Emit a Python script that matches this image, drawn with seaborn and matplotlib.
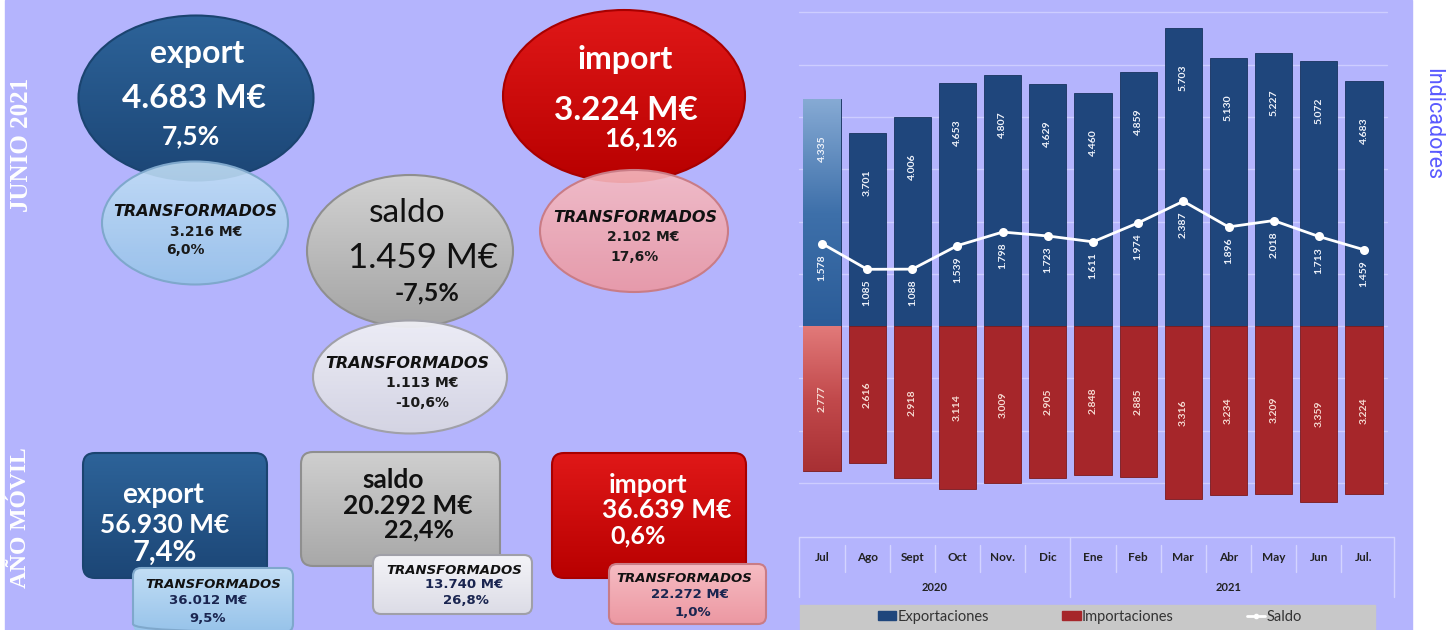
import numpy as np
import pandas as pd
import matplotlib
matplotlib.use("Agg")
import matplotlib.pyplot as plt
import seaborn as sns
from matplotlib.patches import Ellipse, FancyBboxPatch, Rectangle, Patch
from matplotlib.lines import Line2D
from matplotlib.colors import LinearSegmentedColormap

# data
months = ['Jul', 'Ago', 'Sept', 'Oct', 'Nov.', 'Dic', 'Ene', 'Feb', 'Mar', 'Abr', 'May', 'Jun', 'Jul.']
years = ['2020', '2021']
year_spans = [(0, 5), (6, 12)]
exports = [4335, 3701, 4006, 4653, 4807, 4629, 4460, 4859, 5703, 5130, 5227, 5072, 4683]
imports = [2777, 2616, 2918, 3114, 3009, 2905, 2848, 2885, 3316, 3234, 3209, 3359, 3224]
saldo = [1578, 1085, 1088, 1539, 1798, 1723, 1611, 1974, 2387, 1896, 2018, 1713, 1459]

# infographic texts
month_title = 'JUNIO 2021'
year_title = 'AÑO MÓVIL'
junio_main = {'export': ['export', '4.683 M€', '7,5%'],
              'import': ['import', '3.224 M€', '16,1%'],
              'saldo': ['saldo', '1.459 M€', '-7,5%']}
junio_transf = {'export': ['3.216 M€', '6,0%'],
                'import': ['2.102 M€', '17,6%'],
                'saldo': ['1.113 M€', '-10,6%']}
movil_main = {'export': ['export', '56.930 M€', '7,4%'],
              'saldo': ['saldo', '20.292 M€', '22,4%'],
              'import': ['import', '36.639 M€', '0,6%']}
movil_transf = {'export': ['36.012 M€', '9,5%'],
                'saldo': ['13.740 M€', '26,8%'],
                'import': ['22.272 M€', '1,0%']}

BG = '#b4b4fd'
BLUE = '#1f467c'
RED = '#a6262a'
W, H = 1446, 630

sns.set_style('white')
plt.rcParams['font.family'] = ['Lato', 'DejaVu Sans']

fig = plt.figure(figsize=(W / 100, H / 100), dpi=100)
fig.patch.set_facecolor('white')

# canvas axes in pixel coordinates for the infographic part
cv = fig.add_axes([0, 0, 1, 1])
cv.set_xlim(0, W)
cv.set_ylim(H, 0)
cv.axis('off')
cv.add_patch(Rectangle((5, 0), 1407, H, color=BG, zorder=0))

cv.text(22, 145, month_title, rotation=90, ha='center', va='center', color='white',
        fontsize=18, fontweight='bold', family='Liberation Serif')
cv.text(21, 518, year_title, rotation=90, ha='center', va='center', color='white',
        fontsize=17, fontweight='bold', family='Liberation Serif')

ramp = np.linspace(0, 1, 128).reshape(-1, 1)


def shade(p, top, bottom, y0, y1, x0, x1, alpha=1.0):
    # vertical colour ramp clipped to the shape
    cmap = LinearSegmentedColormap.from_list('s', [top, bottom])
    img = cv.imshow(ramp, cmap=cmap, aspect='auto', origin='upper',
                    extent=(x0, x1, y1, y0), zorder=p.get_zorder(), alpha=alpha)
    img.set_clip_path(p)


def ellipse(cx, cy, w, h, top, bottom, ec, alpha=1.0, z=2):
    e = Ellipse((cx, cy), w, h, facecolor='none', edgecolor=ec, lw=1.5, zorder=z + 0.1)
    cv.add_patch(e)
    clip = Ellipse((cx, cy), w, h, facecolor='none', edgecolor='none', zorder=z)
    cv.add_patch(clip)
    shade(clip, top, bottom, cy - h / 2, cy + h / 2, cx - w / 2, cx + w / 2, alpha)


def box(x0, y0, x1, y1, top, bottom, ec, r=12, z=2):
    b = FancyBboxPatch((x0 + r, y0 + r), x1 - x0 - 2 * r, y1 - y0 - 2 * r,
                       boxstyle=f'round,pad={r}', facecolor='none', edgecolor=ec, lw=1.5, zorder=z + 0.1)
    cv.add_patch(b)
    clip = FancyBboxPatch((x0 + r, y0 + r), x1 - x0 - 2 * r, y1 - y0 - 2 * r,
                          boxstyle=f'round,pad={r}', facecolor='none', edgecolor='none', zorder=z)
    cv.add_patch(clip)
    shade(clip, top, bottom, y0, y1, x0, x1)


def main_texts(xs, ys, lines, color, sizes, weights=('bold', 'bold', 'bold')):
    for x, y, t, s, wt in zip(xs, ys, lines, sizes, weights):
        cv.text(x, y, t, ha='center', va='center', color=color, fontsize=s, fontweight=wt, zorder=5)


def transf_texts(xs, ys, vals, color, s1, s2):
    cv.text(xs[0], ys[0], 'TRANSFORMADOS', ha='center', va='center', color='#111111', fontsize=s1,
            fontweight='bold', fontstyle='italic', family='DejaVu Sans', zorder=5)
    for x, y, t in zip(xs[1:], ys[1:], vals):
        cv.text(x, y, t, ha='center', va='center', color=color, fontsize=s2, fontweight='bold',
                family='DejaVu Sans', zorder=5)


# JUNIO 2021 ellipses
ellipse(196, 98, 235, 165, '#2d6399', '#1c4676', '#1b4470')
ellipse(195, 223, 186, 123, '#c2def5', '#97c3ea', '#7fa8cc', alpha=0.9, z=3)
main_texts([197, 194, 191], [53, 98, 136], junio_main['export'], 'white', [23, 24, 19])
transf_texts([195, 206, 185], [212, 232, 250], junio_transf['export'], '#1a1a1a', 11.5, 10)

ellipse(624, 96, 242, 172, '#e01818', '#b80000', '#a80000')
ellipse(634, 231, 188, 122, '#f6bcc3', '#ec98a2', '#c97c86', alpha=0.9, z=3)
main_texts([625, 626, 641], [60, 110, 138], junio_main['import'], 'white', [23, 24, 19])
transf_texts([635, 643, 635], [217, 237, 257], junio_transf['import'], '#1a1a1a', 11.5, 10)

ellipse(410, 251, 206, 152, '#d2d2d2', '#a4a4a4', '#8f8f8f')
ellipse(410, 377, 194, 113, '#f0f0f6', '#d6d6e2', '#a0a0a8', alpha=0.95, z=3)
main_texts([407, 423, 427], [213, 258, 293], junio_main['saldo'], '#111111', [24, 25, 18],
           weights=('normal', 'normal', 'bold'))
transf_texts([407, 422, 422], [363, 383, 403], junio_transf['saldo'], '#1a1a1a', 11.5, 10)

# AÑO MÓVIL boxes
box(83, 453, 267, 578, '#2d6399', '#1c4676', '#1b4470')
box(133, 568, 293, 632, '#c2def5', '#97c3ea', '#7fa8cc', r=8, z=3)
main_texts([163, 165, 165], [495, 525, 553], movil_main['export'], 'white', [20, 19, 21])
transf_texts([213, 208, 208], [584, 601, 618], movil_transf['export'], '#1a2550', 9.5, 9.5)

box(301, 452, 500, 566, '#cfcfcf', '#a8a8a8', '#8f8f8f')
box(373, 555, 532, 614, '#f4f4f8', '#dcdce6', '#a0a0a8', r=8, z=3)
main_texts([393, 408, 419], [480, 506, 530], movil_main['saldo'], '#111111', [19, 19, 18])
transf_texts([454, 464, 466], [570, 585, 601], movil_transf['saldo'], '#1a2550', 9.5, 9.5)

box(552, 453, 746, 578, '#e01818', '#b80000', '#a80000')
box(609, 564, 766, 624, '#f6bcc3', '#ec98a2', '#c97c86', r=8, z=3)
main_texts([648, 667, 638], [485, 510, 536], movil_main['import'], 'white', [19, 19, 18])
transf_texts([684, 690, 693], [578, 595, 612], movil_transf['import'], '#1a2550', 9.5, 9.5)

cv.text(1433, 124, 'Indicadores', rotation=270, ha='center', va='center', color='#5a5aff',
        fontsize=15.5, family='Roboto')

# legend strip
cv.add_patch(Rectangle((800, 605), 575, 30, color='#c8c8c8', zorder=1))
cv.set_xlim(0, W)
cv.set_ylim(H, 0)

# chart axes
ax = fig.add_axes([799.4 / W, (H - 535) / H, 587.2 / W, 522.5 / H])
ax.set_facecolor('none')
df = pd.DataFrame({'mes': months, 'export': exports, 'import': [-v for v in imports], 'saldo': saldo})

for yv in range(-3000, 7000, 1000):
    ax.axhline(yv, color='#cdcdff', lw=1, zorder=0, clip_on=False)

sns.barplot(data=df, x='mes', y='export', color=BLUE, width=0.82, edgecolor='#17345e',
            linewidth=0.6, saturation=1, ax=ax, zorder=2)
sns.barplot(data=df, x='mes', y='import', color=RED, width=0.82, edgecolor='#7a1a1d',
            linewidth=0.6, saturation=1, ax=ax, zorder=2)

# gradient on the highlighted first month
bars = ax.patches
grad_b = LinearSegmentedColormap.from_list('gb', ['#2b5c98', '#3e70aa', '#86aad4'])
grad_r = LinearSegmentedColormap.from_list('gr', ['#a83034', '#c24a4c', '#e27a7a'])
for p, cmap in [(bars[0], grad_b), (bars[len(months)], grad_r)]:
    x0, y0 = p.get_x(), p.get_y()
    w, h = p.get_width(), p.get_height()
    lo, hi = min(y0, y0 + h), max(y0, y0 + h)
    img = ax.imshow(ramp, cmap=cmap, aspect='auto', origin='lower',
                    extent=(x0, x0 + w, lo, hi), zorder=2.5)
    img.set_clip_path(p)

sns.pointplot(data=df, x='mes', y='saldo', color='white', marker='o', markersize=5,
              linewidth=2, ax=ax, zorder=4)

for i, (e, m, s) in enumerate(zip(exports, imports, saldo)):
    ax.text(i, e - 950, f'{e:,}'.replace(',', '.'), rotation=90, ha='center', va='center',
            color='#eef2fa', fontsize=7.5, fontweight='bold', zorder=5)
    ax.text(i, -m / 2, f'{m:,}'.replace(',', '.'), rotation=90, ha='center', va='center',
            color='#f6dcd4', fontsize=7.5, fontweight='bold', zorder=5)
    ax.text(i, s - 200, f'{s:,}'.replace(',', '.'), rotation=90, ha='center', va='top',
            color='#eef2fa', fontsize=7.5, fontweight='bold', zorder=5)

ax.set_xlim(-0.5, len(months) - 0.5)
ax.set_ylim(-4000, 6000)
ax.set_xlabel('')
ax.set_ylabel('')
ax.set_yticks([])
ax.set_xticks(range(len(months)))
ax.set_xticklabels([])
ax.tick_params(axis='x', length=0)
sns.despine(ax=ax, left=True, right=True, top=True, bottom=True)

# category axis below the plot
tr = ax.get_xaxis_transform()
line_c = '#d4d4ff'
ax.plot([-0.5, len(months) - 0.33], [-0.004, -0.004], transform=tr, color=line_c, lw=1, clip_on=False)
for i, m in enumerate(months):
    ax.text(i, -0.044, m, transform=tr, ha='center', va='center', fontsize=8.5,
            fontweight='bold', color='#222222')
for i in range(len(months) - 1):
    if i == 5:
        continue
    ax.plot([i + 0.5, i + 0.5], [-0.019, -0.071], transform=tr, color=line_c, lw=1, clip_on=False)
for xv in [-0.5, 5.5, len(months) - 0.33]:
    ax.plot([xv, xv], [-0.004, -0.119], transform=tr, color=line_c, lw=1, clip_on=False)
for yr, (a, b) in zip(years, year_spans):
    ax.text((a + b) / 2, -0.101, yr, transform=tr, ha='center', va='center', fontsize=8,
            fontweight='bold', color='#222222')

handles = [Patch(color=BLUE), Patch(color=RED),
           Line2D([0], [0], color='white', lw=2, marker='o', markersize=3)]
fig.legend(handles, ['Exportaciones', 'Importaciones', 'Saldo'], loc='center',
           bbox_to_anchor=(1090 / W, (H - 617) / H), ncol=3, frameon=False, fontsize=10.5,
           columnspacing=5.0, handlelength=1.25, handleheight=0.55, handletextpad=0.1,
           labelcolor='#333333')

fig.savefig('out.png', dpi=100, facecolor=fig.get_facecolor())
